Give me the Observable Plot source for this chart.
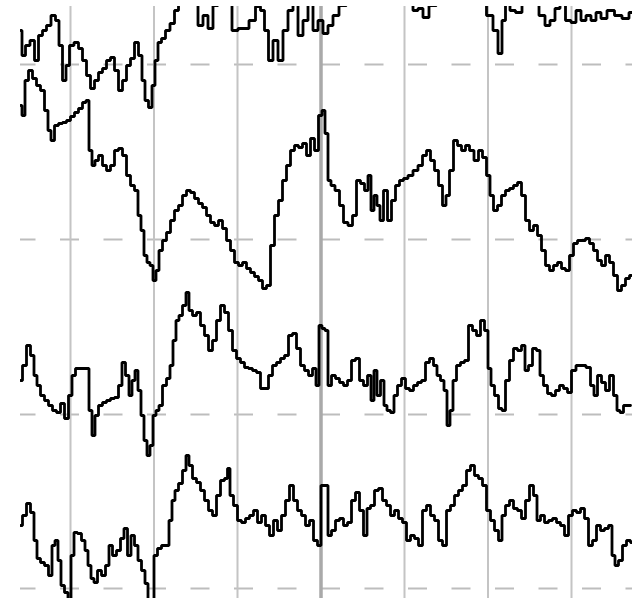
<!DOCTYPE html>
<html>
<head>
<meta charset="utf-8">
<script src="https://cdn.jsdelivr.net/npm/d3@7"></script>
<script src="https://cdn.jsdelivr.net/npm/@observablehq/plot@0.6"></script>
<style>
  html, body { margin: 0; padding: 0; background: #fff; }
  #chart svg { display: block; background: #fff; }
</style>
</head>
<body>
<div id="chart"></div>
<script>
// Channel names (top to bottom) and vertical offsets of their baselines (µV units)
const channels = ["Ch1", "Ch2", "Ch3", "Ch4"];
const channelOffsets = [524, 349, 174, 0];

// Second markers (sample index) and the highlighted event marker
const secondTicks = [70, 153.5, 237, 404, 487.5, 571];
const eventTicks = [320.5];

// Each channel: [sample, amplitude µV]
const ch1 = [[20,34],[23,9],[27,19],[32,24],[36,4],[40,29],[44,34],[48,39],[53,49],[57,44],[60,19],[64,-16],[67,-1],[71,19],[76,22],[80,16],[84,4],[88,-11],[92,-24],[96,-16],[100,-8],[104,-4],[108,4],[112,7],[116,-6],[120,-26],[124,-16],[128,-1],[132,6],[136,22],[140,9],[143,-16],[146,-36],[150,-43],[153,-21],[156,4],[159,22],[163,26],[167,34],[172,41],[176,54],[180,69],[185,74],[190,72],[195,64],[200,39],[205,49],[210,36],[215,59],[220,69],[228,69],[235,34],[240,36],[245,36],[252,44],[258,58],[262,54],[266,34],[270,4],[275,24],[280,4],[285,34],[290,54],[295,64],[300,29],[305,44],[310,69],[315,34],[320,44],[325,31],[330,39],[335,49],[342,59],[350,74],[360,84],[370,89],[380,84],[390,79],[400,74],[410,67],[415,54],[420,56],[425,47],[432,59],[440,74],[455,84],[470,79],[482,69],[490,49],[495,34],[500,11],[503,44],[507,69],[512,54],[518,52],[525,69],[535,69],[542,49],[547,39],[552,44],[557,56],[562,69],[568,44],[573,42],[578,54],[583,44],[588,49],[593,44],[598,52],[603,46],[610,54],[618,49],[625,46],[632,52]];

const ch2 = [[20,134],[23,124],[26,159],[30,169],[34,161],[38,154],[42,149],[46,129],[49,109],[52,99],[56,114],[60,116],[64,117],[68,119],[72,123],[76,127],[80,131],[84,137],[87,139],[90,89],[93,74],[96,79],[100,84],[104,74],[108,69],[112,74],[116,89],[120,91],[124,84],[128,64],[132,54],[136,49],[139,24],[142,9],[145,-16],[148,-23],[151,-26],[154,-41],[157,-31],[160,-11],[164,-1],[168,7],[172,19],[176,29],[180,34],[184,44],[188,49],[192,47],[196,41],[200,36],[204,32],[208,24],[212,17],[216,14],[220,19],[224,11],[228,-1],[232,-11],[236,-23],[240,-26],[244,-23],[248,-29],[252,-33],[256,-37],[260,-41],[264,-49],[268,-46],[272,-6],[276,24],[280,39],[284,59],[288,74],[292,89],[296,94],[300,92],[304,96],[308,84],[312,101],[316,89],[320,124],[323,129],[326,106],[329,59],[332,54],[337,49],[341,34],[345,17],[350,14],[354,24],[358,59],[362,56],[366,49],[369,64],[372,29],[375,44],[378,34],[381,19],[385,49],[389,19],[393,39],[397,54],[401,59],[405,61],[410,64],[415,69],[420,74],[424,84],[428,89],[432,79],[436,69],[440,54],[444,34],[447,44],[451,69],[455,99],[459,94],[463,89],[467,94],[471,89],[476,79],[480,89],[484,82],[488,64],[491,44],[495,29],[499,34],[503,44],[507,49],[511,51],[515,54],[519,57],[523,44],[527,19],[531,9],[535,14],[539,4],[543,-11],[547,-26],[551,-31],[555,-26],[559,-23],[563,-29],[567,-31],[571,-16],[575,-4],[579,-1],[583,-1],[587,1],[591,-4],[595,-11],[599,-21],[603,-26],[607,-16],[611,-23],[615,-36],[619,-51],[623,-46],[627,-39],[631,-36]];

const ch3 = [[20,34],[24,49],[28,69],[32,59],[35,39],[38,29],[42,19],[46,14],[50,9],[54,4],[58,2],[62,11],[66,-4],[70,19],[73,39],[77,46],[82,46],[87,46],[90,4],[93,-21],[96,-1],[100,9],[104,12],[108,14],[112,16],[116,17],[120,29],[123,52],[127,39],[130,19],[133,34],[136,44],[139,24],[142,-1],[145,-26],[148,-41],[151,-31],[154,-1],[157,4],[160,9],[164,29],[168,36],[171,49],[174,74],[177,94],[180,99],[184,109],[187,122],[190,104],[194,99],[198,102],[202,89],[206,79],[210,64],[214,74],[218,94],[222,109],[226,102],[230,84],[234,64],[238,56],[242,52],[246,47],[250,46],[254,44],[258,42],[262,26],[266,26],[270,39],[274,49],[278,52],[282,56],[286,59],[290,79],[294,81],[298,66],[302,49],[306,44],[310,39],[314,46],[317,29],[320,89],[323,86],[326,84],[329,29],[333,39],[337,36],[341,32],[345,29],[349,34],[353,54],[357,56],[361,34],[365,29],[369,39],[372,14],[375,44],[378,19],[382,34],[385,9],[388,4],[392,2],[395,19],[399,29],[403,36],[407,26],[411,24],[415,29],[419,32],[423,34],[427,52],[431,56],[435,49],[438,39],[442,34],[445,24],[448,-11],[451,4],[454,34],[458,49],[462,52],[466,54],[470,89],[474,84],[478,79],[482,94],[486,84],[489,46],[492,29],[496,19],[500,6],[503,4],[507,34],[511,54],[515,66],[519,64],[523,69],[526,44],[530,49],[534,66],[538,64],[541,39],[545,29],[549,21],[553,19],[557,24],[561,29],[565,26],[569,22],[573,44],[578,49],[583,49],[588,47],[592,29],[595,19],[599,39],[603,32],[607,24],[611,39],[615,19],[618,4],[621,2],[625,9],[630,9]];

const ch4 = [[20,63],[24,73],[28,85],[32,76],[35,48],[38,30],[42,26],[46,23],[50,13],[53,43],[56,48],[59,28],[62,3],[66,-4],[69,-12],[72,33],[75,56],[79,55],[83,48],[86,38],[89,23],[92,10],[95,6],[99,18],[103,13],[107,23],[110,43],[114,33],[118,38],[122,50],[125,60],[129,33],[132,53],[136,43],[139,28],[143,18],[146,5],[149,-12],[152,-12],[155,33],[159,40],[163,43],[167,43],[170,68],[173,88],[176,98],[180,105],[184,118],[187,133],[190,123],[194,110],[198,106],[202,98],[206,88],[210,78],[214,73],[218,93],[222,108],[226,110],[228,120],[231,93],[235,83],[239,68],[243,66],[247,70],[251,73],[255,78],[259,66],[263,73],[267,63],[271,53],[275,68],[279,58],[283,73],[287,88],[291,103],[295,88],[299,78],[303,73],[307,63],[311,68],[315,48],[319,43],[322,103],[326,103],[329,53],[333,58],[337,68],[341,70],[345,63],[349,66],[353,88],[357,96],[361,78],[365,53],[368,80],[372,83],[376,98],[380,100],[384,88],[388,83],[392,73],[396,78],[400,70],[404,66],[408,48],[412,53],[416,50],[420,43],[424,78],[428,83],[432,73],[436,68],[440,48],[444,43],[448,78],[452,83],[456,93],[460,98],[464,103],[468,118],[472,123],[476,113],[480,110],[484,103],[488,78],[492,68],[496,58],[500,48],[503,73],[507,83],[511,88],[515,80],[519,78],[523,70],[527,88],[531,103],[535,93],[538,68],[542,73],[546,66],[550,68],[554,70],[558,66],[562,63],[566,53],[570,73],[574,78],[578,76],[582,80],[586,70],[590,43],[594,48],[598,63],[602,58],[606,60],[610,63],[613,33],[616,23],[620,28],[624,43],[628,48],[632,46]];

const series = [ch1, ch2, ch3, ch4];
const rows = series.flatMap((s, i) =>
  s.map(([t, v]) => ({channel: channels[i], t, y: channelOffsets[i] + v}))
);

const chart = Plot.plot({
  width: 639,
  height: 598,
  marginLeft: 20,
  marginRight: 7,
  marginTop: 6,
  marginBottom: 0,
  x: {domain: [20, 632], axis: null},
  y: {domain: [-10, 582], axis: null},
  style: {background: "#fff"},
  marks: [
    Plot.ruleY(channelOffsets, {
      stroke: "#bdbdbd", strokeWidth: 2,
      strokeDasharray: "19,24.5", strokeDashoffset: 3.5
    }),
    Plot.ruleX(secondTicks, {stroke: "#c4c4c4", strokeWidth: 2}),
    Plot.ruleX(eventTicks, {stroke: "#a9a9a9", strokeWidth: 3.5}),
    Plot.line(rows, {
      x: "t", y: "y", z: "channel",
      curve: "step",
      stroke: "#000", strokeWidth: 2.8,
      strokeLinejoin: "miter",
      clip: true
    })
  ]
});
document.getElementById("chart").append(chart);
</script>
</body>
</html>
